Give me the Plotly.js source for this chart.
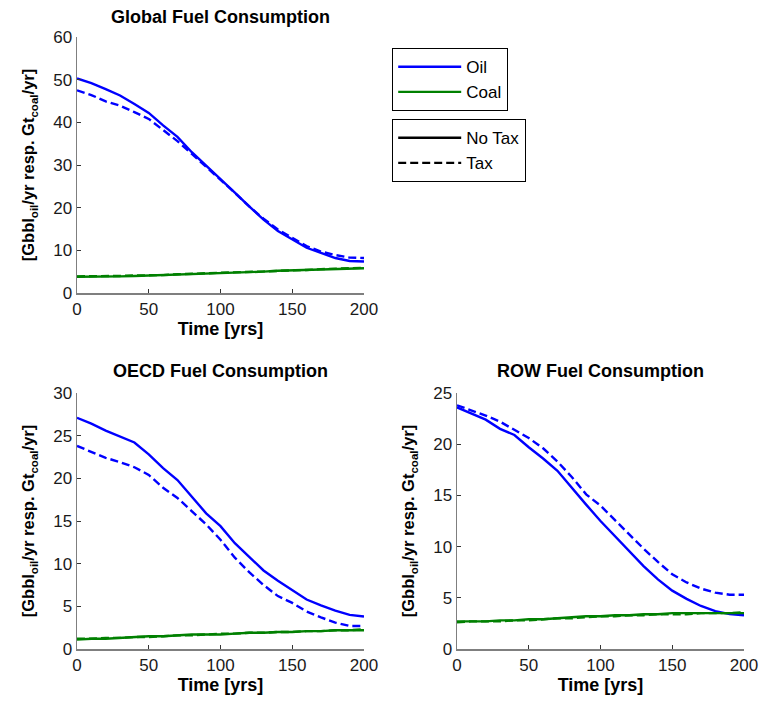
<!DOCTYPE html>
<html>
<head>
<meta charset="utf-8">
<script src="https://cdn.plot.ly/plotly-3.0.1.min.js"></script>
<style>body{margin:0;padding:0;background:#fff}#chart{width:761px;height:704px}</style>
</head>
<body>
<div id="chart"></div>
<script>
const years = [0,10,20,30,40,50,60,70,80,90,100,110,120,130,140,150,160,170,180,190,200];

const globalOilNoTax = [50.3,49.2,47.8,46.3,44.3,42.2,39.3,36.6,33.0,29.9,26.6,23.5,20.3,17.2,14.5,12.5,10.6,9.4,8.2,7.5,7.4];
const globalOilTax   = [47.5,46.4,44.9,43.9,42.4,40.8,38.2,35.6,32.6,29.6,26.6,23.5,20.3,17.4,14.9,12.9,11.0,9.7,8.9,8.3,8.2];
const globalCoalNoTax= [3.8,3.8,3.9,3.9,4.0,4.1,4.2,4.4,4.5,4.6,4.7,4.8,4.9,5.0,5.2,5.3,5.4,5.5,5.7,5.8,5.8];
const globalCoalTax  = [3.9,3.9,4.0,4.0,4.1,4.1,4.2,4.4,4.5,4.6,4.7,4.9,5.0,5.1,5.2,5.3,5.4,5.6,5.7,5.8,5.9];

const oecdOilNoTax = [27.1,26.4,25.6,24.9,24.2,22.8,21.2,19.8,17.9,15.9,14.4,12.4,10.8,9.2,8.0,6.9,5.8,5.1,4.5,4.0,3.8];
const oecdOilTax   = [23.8,23.1,22.4,21.9,21.3,20.4,18.9,17.7,16.2,14.6,12.8,10.7,9.0,7.5,6.2,5.4,4.4,3.7,3.1,2.7,2.7];
const oecdCoalNoTax= [1.1,1.2,1.2,1.3,1.4,1.5,1.5,1.6,1.7,1.7,1.7,1.8,1.9,1.9,2.0,2.0,2.1,2.1,2.2,2.2,2.2];
const oecdCoalTax  = [1.2,1.2,1.3,1.3,1.4,1.4,1.5,1.6,1.6,1.7,1.8,1.8,1.9,1.9,2.0,2.0,2.1,2.1,2.2,2.2,2.3];

const rowOilNoTax = [23.6,23.0,22.4,21.5,20.9,19.7,18.6,17.4,15.7,14.1,12.5,11.0,9.5,8.1,6.8,5.7,4.9,4.2,3.7,3.4,3.3];
const rowOilTax   = [23.8,23.3,22.8,22.2,21.4,20.6,19.6,18.3,16.8,15.1,14.0,12.6,11.1,9.8,8.5,7.3,6.5,5.9,5.5,5.3,5.3];
const rowCoalNoTax= [2.7,2.7,2.7,2.8,2.8,2.9,2.9,3.0,3.1,3.2,3.2,3.3,3.3,3.4,3.4,3.5,3.5,3.5,3.5,3.5,3.5];
const rowCoalTax  = [2.6,2.7,2.7,2.7,2.8,2.8,2.9,3.0,3.0,3.1,3.2,3.2,3.3,3.3,3.4,3.4,3.4,3.5,3.5,3.5,3.6];

const titles = ['Global Fuel Consumption','OECD Fuel Consumption','ROW Fuel Consumption'];
const legendLabels = ['Oil','Coal','No Tax','Tax'];
const xTicks = [0,50,100,150,200];

const BLUE = '#0000ff', GREEN = '#008000';
const LW = 2.4;
const DASH = '8px,4px';

function tr(y, color, dash, xa, ya, name, show, legend) {
  return {x: years, y: y, type: 'scatter', mode: 'lines', xaxis: xa, yaxis: ya,
    line: {color: color, width: LW, dash: dash}, name: name || '', showlegend: !!show,
    legend: legend || 'legend', hoverinfo: 'skip'};
}

const data = [
  tr(globalOilNoTax, BLUE, 'solid', 'x', 'y', legendLabels[0], true, 'legend'),
  tr(globalCoalNoTax, GREEN, 'solid', 'x', 'y', legendLabels[1], true, 'legend'),
  tr(globalOilTax, BLUE, DASH, 'x', 'y'),
  tr(globalCoalTax, GREEN, DASH, 'x', 'y'),
  tr(oecdOilNoTax, BLUE, 'solid', 'x2', 'y2'),
  tr(oecdOilTax, BLUE, DASH, 'x2', 'y2'),
  tr(oecdCoalNoTax, GREEN, 'solid', 'x2', 'y2'),
  tr(oecdCoalTax, GREEN, DASH, 'x2', 'y2'),
  tr(rowOilNoTax, BLUE, 'solid', 'x3', 'y3'),
  tr(rowOilTax, BLUE, DASH, 'x3', 'y3'),
  tr(rowCoalNoTax, GREEN, 'solid', 'x3', 'y3'),
  tr(rowCoalTax, GREEN, DASH, 'x3', 'y3'),
  {x:[null], y:[null], type:'scatter', mode:'lines', xaxis:'x', yaxis:'y', name: legendLabels[2], legend:'legend2', showlegend:true, line:{color:'#000', width:LW, dash:'solid'}},
  {x:[null], y:[null], type:'scatter', mode:'lines', xaxis:'x', yaxis:'y', name: legendLabels[3], legend:'legend2', showlegend:true, line:{color:'#000', width:LW, dash:DASH}}
];

const FONT = 'Arial';
const ytitle = '<b>[Gbbl<sub>oil</sub>/yr resp. Gt<sub>coal</sub>/yr]</b>';

function xax(domain, anchor) {
  return {domain: domain, anchor: anchor, range: [0, 200], tickvals: xTicks, ticks: 'inside', ticklen: 4,
    tickcolor: '#333', showline: true, linecolor: '#7f7f7f', linewidth: 1.5, showgrid: false, zeroline: false,
    tickfont: {family: FONT, size: 17, color: '#1a1a1a'},
    title: {text: '<b>Time [yrs]</b>', font: {family: FONT, size: 18, color: '#000'}, standoff: 0}};
}
function yax(domain, anchor, max, dt) {
  return {domain: domain, anchor: anchor, range: [0, max], dtick: dt, ticks: 'inside', ticklen: 4,
    tickcolor: '#333', showline: true, linecolor: '#7f7f7f', linewidth: 1.5, showgrid: false, zeroline: false,
    tickfont: {family: FONT, size: 17, color: '#1a1a1a'},
    title: {text: ytitle, font: {family: FONT, size: 16.5, color: '#000'}, standoff: 14}};
}

const dxL = [77/761, 364/761], dxR = [457/761, 744/761];
const dyT = [1-293/704, 1-37/704], dyB = [1-649/704, 1-393/704];

function ann(i, x, ypx) {
  return {text: '<b>' + titles[i] + '</b>', x: x, y: 1-ypx/704, xref: 'paper', yref: 'paper',
    xanchor: 'center', yanchor: 'middle', showarrow: false, font: {family: FONT, size: 18, color: '#000'}};
}

const legFont = {family: FONT, size: 17, color: '#000'};
const layout = {
  width: 761, height: 704,
  margin: {l: 0, r: 0, t: 0, b: 0},
  paper_bgcolor: '#fff', plot_bgcolor: '#fff',
  font: {family: FONT, color: '#000'},
  xaxis: xax(dxL, 'y'), yaxis: yax(dyT, 'x', 60, 10),
  xaxis2: xax(dxL, 'y2'), yaxis2: yax(dyB, 'x2', 30, 5),
  xaxis3: xax(dxR, 'y3'), yaxis3: yax(dyB, 'x3', 25, 5),
  legend: {x: 392/761, y: 1-48/704, xanchor: 'left', yanchor: 'top', bordercolor: '#000', borderwidth: 1.2,
    bgcolor: '#fff', font: legFont, itemwidth: 63, tracegroupgap: 0},
  legend2: {x: 392/761, y: 1-119/704, xanchor: 'left', yanchor: 'top', bordercolor: '#000', borderwidth: 1.2,
    bgcolor: '#fff', font: legFont, itemwidth: 63, tracegroupgap: 0},
  annotations: [
    ann(0, (dxL[0]+dxL[1])/2, 17),
    ann(1, (dxL[0]+dxL[1])/2, 371),
    ann(2, (dxR[0]+dxR[1])/2, 371)
  ]
};

Plotly.newPlot('chart', data, layout, {displayModeBar: false, staticPlot: true});
</script>
</body>
</html>
